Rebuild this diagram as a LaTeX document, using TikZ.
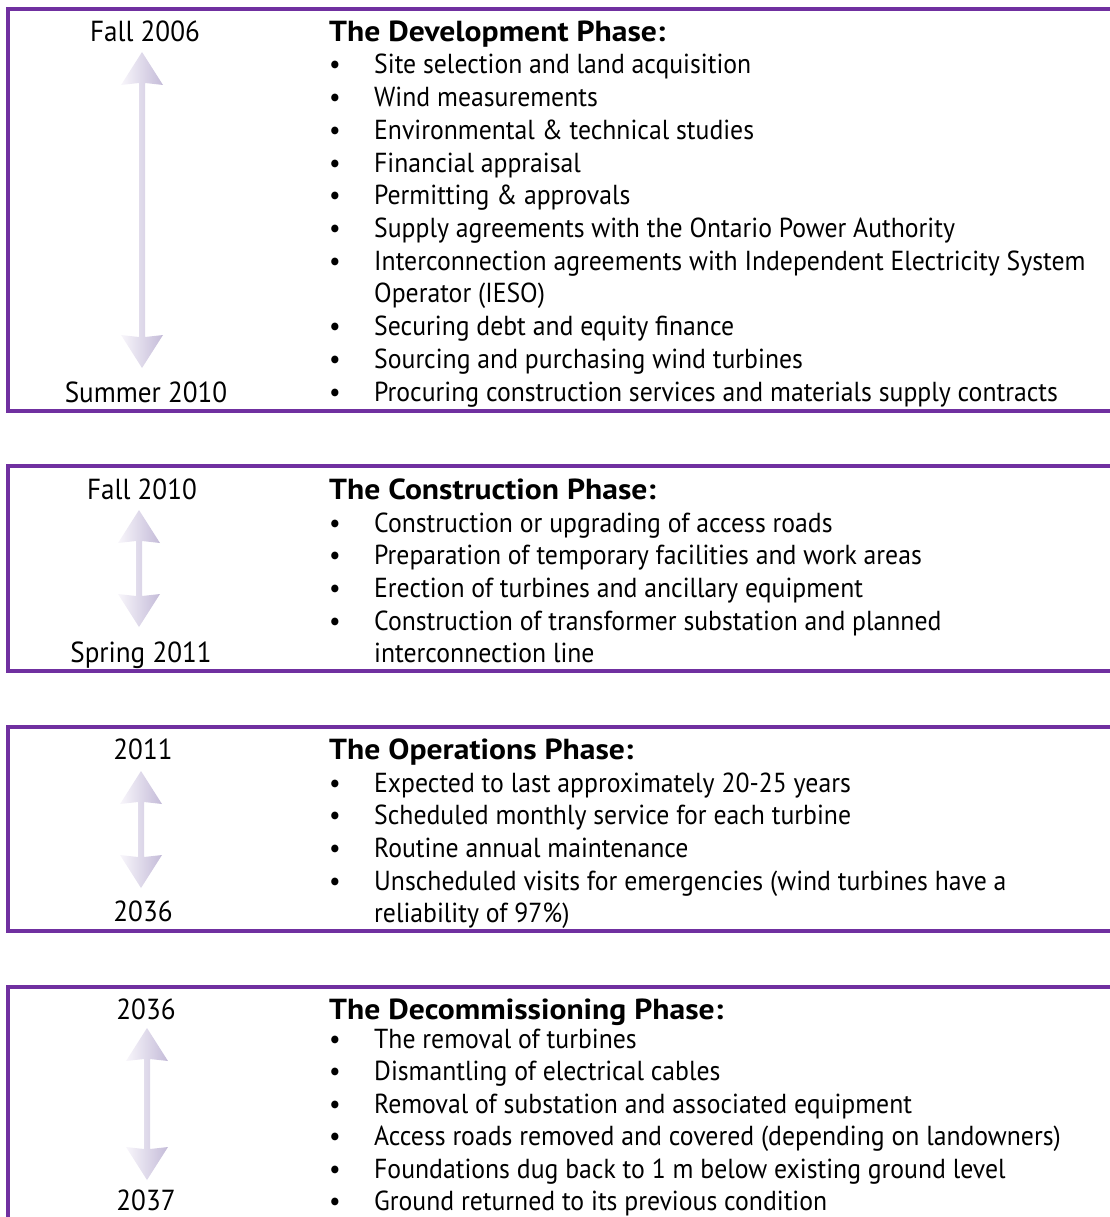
\documentclass[tikz,border=0pt]{standalone}
\usepackage{fontspec}
\setmainfont{PT Sans}[FakeStretch=0.935]
\newfontfamily\titlefont{PT Sans}[FakeStretch=1.09]
\definecolor{phasepurple}{RGB}{112,48,160}
\definecolor{arrowlight}{RGB}{248,246,251}
\definecolor{arrowdark}{RGB}{196,187,216}

\tikzset{
  phasebox/.style={draw=phasepurple, line width=4pt},
  datelabel/.style={font=\fontsize{29}{33}\selectfont, anchor=base, inner sep=0pt},
  phasetitle/.style={font=\titlefont\fontsize{29}{34}\selectfont\bfseries, anchor=base west, inner sep=0pt},
  itemtext/.style={font=\fontsize{27.5}{32}\selectfont, anchor=base west, inner sep=0pt},
  bulletmark/.style={font=\fontsize{27.5}{32}\selectfont, anchor=base, inner sep=0pt},
  spanarrow/.style={left color=arrowlight, right color=arrowdark},
}

% double-headed span arrow: #1 x, #2 upper tip y, #3 lower tip y
\newcommand\spanarrow[3]{%
  \shade[spanarrow]
    (#1,#2) -- (#1+21,#2+33) -- (#1+3,#2+31) -- (#1+3,#3-31) -- (#1+21,#3-33)
    -- (#1,#3) -- (#1-21,#3-33) -- (#1-3,#3-31) -- (#1-3,#2+31) -- (#1-21,#2+33) -- cycle;}

% bullet list: #1 name prefix, #2 first baseline, #3 line pitch, #4 list of items
\newcommand\phaseitems[4]{%
  \foreach \t [count=\k from 0] in {#4} {
    \node[bulletmark] (#1b\k) at (335,#2+#3*\k) {•};
    \node[itemtext] (#1i\k) at (374,#2+#3*\k) {\t};
  }}

\begin{document}
\begin{tikzpicture}[x=1pt,y=-1pt]
\useasboundingbox (0,0) rectangle (1110,1217);
\begin{scope}
\clip (0,0) rectangle (1110,1217);

% ---- phase frames (open towards the right) ----
\draw[phasebox] (1130,9.5) -- (7.5,9.5) -- (7.5,411) -- (1130,411);
\draw[phasebox] (1130,466) -- (7.5,466) -- (7.5,671) -- (1130,671);
\draw[phasebox] (1130,727) -- (7.5,727) -- (7.5,931) -- (1130,931);
\draw[phasebox] (1130,987) -- (7.5,987) -- (7.5,1240);

% ---- development phase ----
\node[datelabel] (d1a) at (145,42) {Fall 2006};
\node[datelabel] (d1b) at (146,402) {Summer 2010};
\spanarrow{142}{52}{368}
\node[phasetitle] (t1) at (329,42) {The Development Phase:};
\phaseitems{p1}{74}{32.7}{Site selection and land acquisition,
  Wind measurements,
  Environmental \& technical studies,
  Financial appraisal,
  Permitting \& approvals,
  Supply agreements with the Ontario Power Authority,
  Interconnection agreements with Independent Electricity System}
\node[itemtext] (p1cont) at (374,74+32.7*7) {Operator (IESO)};
\foreach \t [count=\k from 8] in {Securing debt and equity finance,
  Sourcing and purchasing wind turbines,
  Procuring construction services and materials supply contracts} {
  \node[bulletmark] (p1b\k) at (335,74+32.7*\k) {•};
  \node[itemtext] (p1i\k) at (374,74+32.7*\k) {\t};
}

% ---- construction phase ----
\node[datelabel] (d2a) at (142,499) {Fall 2010};
\node[datelabel] (d2b) at (141,662) {Spring 2011};
\spanarrow{139}{510}{627}
\node[phasetitle] (t2) at (329,499) {The Construction Phase:};
\phaseitems{p2}{532}{32.7}{Construction or upgrading of access roads,
  Preparation of temporary facilities and work areas,
  Erection of turbines and ancillary equipment,
  Construction of transformer substation and planned}
\node[itemtext] (p2cont) at (374,532+32.7*4) {interconnection line};

% ---- operations phase ----
\node[datelabel] (d3a) at (143,759) {2011};
\node[datelabel] (d3b) at (143,921) {2036};
\spanarrow{141}{771}{888}
\node[phasetitle] (t3) at (329,759) {The Operations Phase:};
\phaseitems{p3}{792}{32.7}{Expected to last approximately 20-25 years,
  Scheduled monthly service for each turbine,
  Routine annual maintenance,
  Unscheduled visits for emergencies (wind turbines have a}
\node[itemtext] (p3cont) at (374,792+32.7*4) {reliability of 97\%)};

% ---- decommissioning phase ----
\node[datelabel] (d4a) at (146,1019) {2036};
\node[datelabel] (d4b) at (146,1210) {2037};
\spanarrow{147}{1028}{1180}
\node[phasetitle] (t4) at (329,1019) {The Decommissioning Phase:};
\phaseitems{p4}{1048}{32.5}{The removal of turbines,
  Dismantling of electrical cables,
  Removal of substation and associated equipment,
  Access roads removed and covered (depending on landowners),
  Foundations dug back to 1 m below existing ground level,
  Ground returned to its previous condition}
\end{scope}
\end{tikzpicture}
\end{document}
